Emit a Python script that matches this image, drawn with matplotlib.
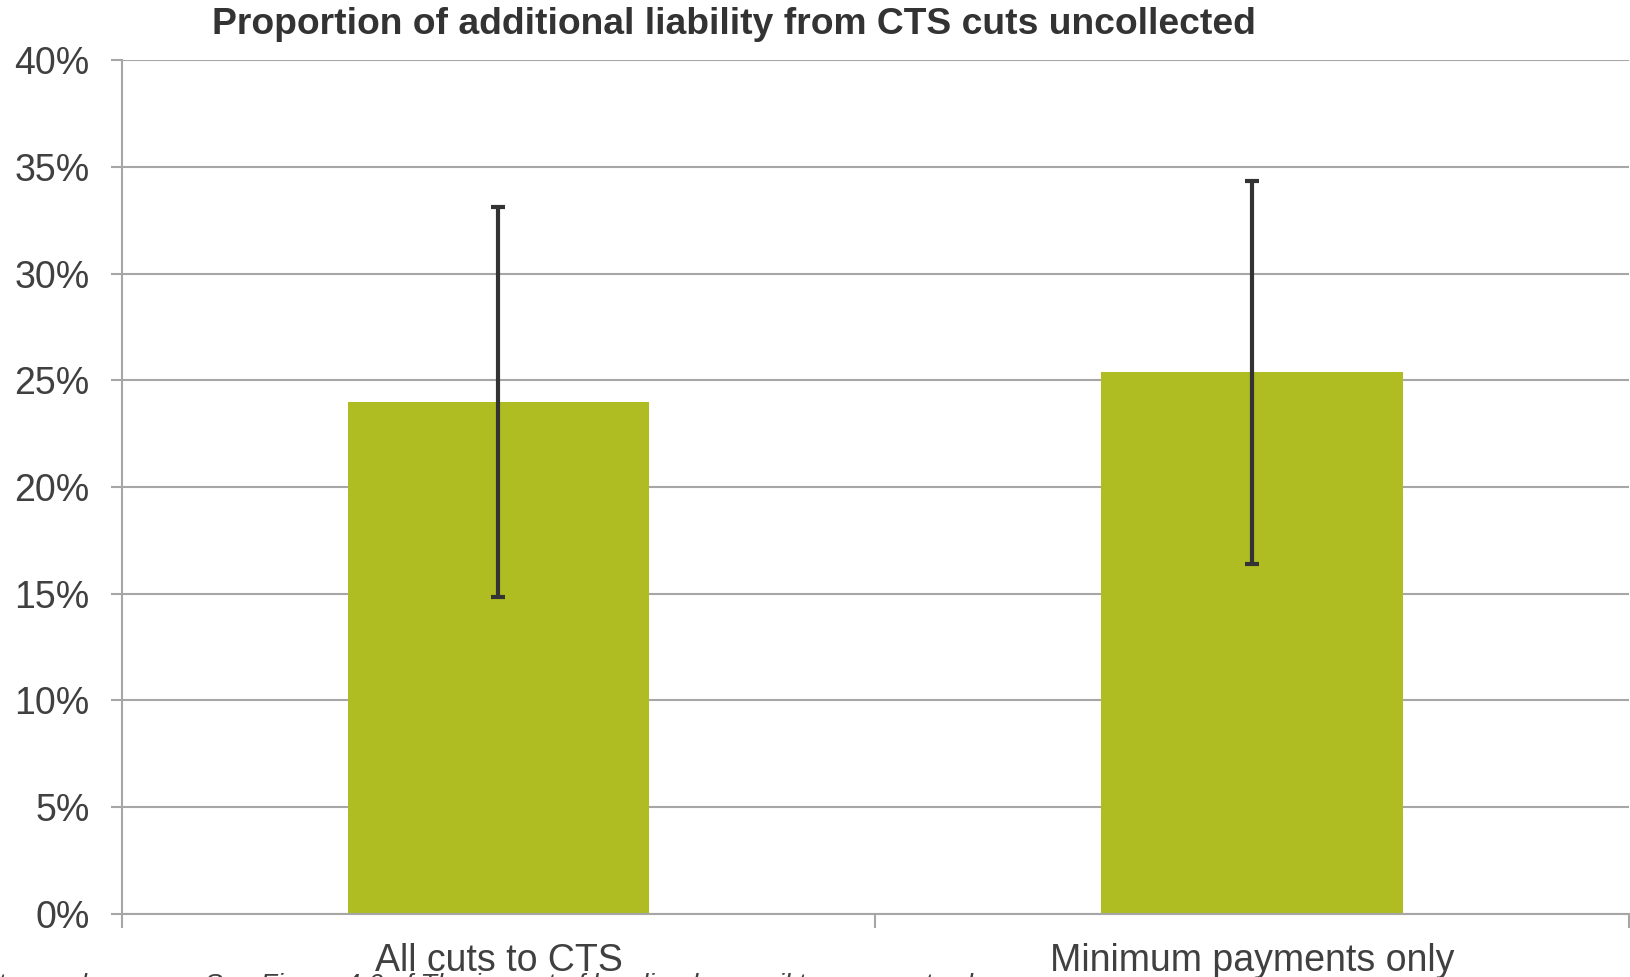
import matplotlib
matplotlib.use("Agg")
import matplotlib.pyplot as plt
from matplotlib.ticker import FixedLocator, PercentFormatter

categories = ["All cuts to CTS", "Minimum payments only"]
values = [24.0, 25.4]
err_low = [14.85, 16.4]
err_high = [33.1, 34.35]
yticks = [0, 5, 10, 15, 20, 25, 30, 35, 40]
title = "Proportion of additional liability from CTS cuts uncollected"
footnote = "Notes and sources: See Figure 4.6 of The impact of localised council tax support schemes"

plt.rcParams['font.family'] = ['Liberation Sans', 'DejaVu Sans']
text_color = "#404040"
grid_color = "#A6A6A6"
bar_color = "#AFBD22"

fig = plt.figure(figsize=(16.3, 9.77), dpi=100)
ax = fig.add_axes([0.0746, 0.0648, 0.9248, 0.8735])

x = list(range(len(categories)))
yerr = [[v - lo for v, lo in zip(values, err_low)],
        [hi - v for v, hi in zip(values, err_high)]]
ax.bar(x, values, width=0.4, color=bar_color, zorder=2)
ax.errorbar(x, values, yerr=yerr, fmt='none', ecolor="#333333",
            elinewidth=3, capsize=5, capthick=3, zorder=3)

ax.set_xlim(-0.5, 1.5)
ax.set_ylim(0, 40)
ax.set_yticks(yticks)
ax.yaxis.set_major_formatter(PercentFormatter(decimals=0))
ax.grid(axis='y', color=grid_color, linewidth=1.5, zorder=0)
ax.set_axisbelow(True)

ax.set_xticks(x)
ax.set_xticklabels(categories)
ax.xaxis.set_minor_locator(FixedLocator([-0.5, 0.5, 1.5]))
ax.tick_params(axis='x', which='major', length=0, pad=21, labelsize=27, labelcolor=text_color)
ax.tick_params(axis='x', which='minor', length=10, width=1.5, color=grid_color, direction='out')
ax.tick_params(axis='y', length=8, width=1.5, color=grid_color, pad=15, labelsize=27, labelcolor=text_color)

for s in ['top', 'right']:
    ax.spines[s].set_visible(False)
for s in ['left', 'bottom']:
    ax.spines[s].set_color(grid_color)
    ax.spines[s].set_linewidth(1.5)

fig.text(0.45, 0.975, title, ha='center', va='center', fontsize=26.8,
         fontweight='bold', color="#333333")
fig.text(-0.023, 0.004, footnote, ha='left', va='top', fontsize=19.5,
         style='italic', color=text_color)

fig.savefig("out.png", dpi=100)
